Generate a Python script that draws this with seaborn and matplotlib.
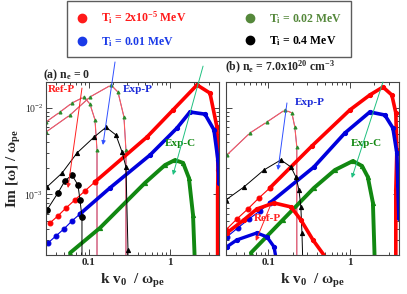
import matplotlib
matplotlib.use("Agg")
import matplotlib.pyplot as plt
from matplotlib.lines import Line2D
from matplotlib.ticker import NullFormatter
import seaborn as sns

# ---- data (k v0/wpe, Im w/wpe) ----
# panel (a): n_e = 0
k_a_red = [0.0336, 0.042, 0.0528, 0.068, 0.0903, 0.12, 0.522, 1.09, 2.15, 3.1, 3.78, 3.89, 3.85, 3.85]
im_a_red = [4.69e-4, 5.65e-4, 6.98e-4, 8.65e-4, 1.10e-3, 1.40e-3, 4.62e-3, 9.5e-3, 0.0185,
            0.0149, 6.0e-3, 1.9e-3, 1.0e-3, 1.5e-4]
k_a_blue = [0.0318, 0.0398, 0.0499, 0.0625, 0.0786, 0.183, 0.569, 1.22, 1.76, 2.69, 3.47, 3.89, 4.0]
im_a_blue = [2.75e-4, 3.32e-4, 4.0e-4, 4.94e-4, 5.96e-4, 1.19e-3, 2.86e-3, 5.87e-3, 9.0e-3,
             8.5e-3, 5.6e-3, 2.5e-3, 1.36e-3]
k_a_green = [0.0592, 0.138, 0.493, 0.869, 1.15, 1.45, 1.71, 1.92, 2.03]
im_a_green = [2.11e-4, 4.1e-4, 1.36e-3, 2.19e-3, 2.5e-3, 2.32e-3, 1.55e-3, 5.8e-4, 1.5e-4]
k_a_tri = [0.0308, 0.0472, 0.0721, 0.117, 0.164, 0.217, 0.258, 0.288, 0.305, 0.305]
im_a_tri = [1.22e-3, 1.77e-3, 3.02e-3, 4.62e-3, 6.0e-3, 4.88e-3, 3.1e-3, 2.08e-3, 2.29e-4, 1.5e-4]
k_a_circ = [0.0308, 0.042, 0.0513, 0.0625, 0.0741, 0.0785, 0.083, 0.083]
im_a_circ = [6.6e-4, 1.04e-3, 1.44e-3, 1.68e-3, 1.29e-3, 8.6e-4, 5.5e-4, 1.5e-4]
k_a_ref1 = [0.03, 0.0446, 0.0625, 0.0879, 0.104, 0.12, 0.127, 0.127]
im_a_ref1 = [6.9e-3, 9.0e-3, 0.01143, 0.01342, 0.01114, 7.3e-3, 3.27e-3, 1.5e-4]
k_a_ref2 = [0.03, 0.0592, 0.104, 0.189, 0.23, 0.272, 0.288, 0.288]
im_a_ref2 = [5.28e-3, 8.3e-3, 0.01342, 0.01845, 0.0153, 7.9e-3, 3.27e-3, 1.5e-4]

# panel (b): n_e = 7.0e20 cm^-3
k_b_red = [0.03, 0.0409, 0.0558, 0.0762, 0.104, 0.342, 1.0, 1.76, 2.55, 3.28, 3.67, 3.78, 3.67, 3.67]
im_b_red = [3.89e-4, 5.2e-4, 6.8e-4, 9.1e-4, 1.19e-3, 3.64e-3, 9.5e-3, 0.01416, 0.0175, 0.01416,
            8.8e-3, 3.27e-3, 1.13e-3, 1.5e-4]
k_b_blue = [0.0308, 0.042, 0.0575, 0.0785, 0.104, 0.362, 0.869, 1.76, 2.69, 3.38, 3.78, 3.89, 4.0]
im_b_blue = [3.23e-4, 4.1e-4, 5.2e-4, 6.45e-4, 7.98e-4, 2.08e-3, 5.14e-3, 9.0e-3, 8.3e-3,
             5.87e-3, 3.02e-3, 1.29e-3, 5.36e-4]
k_b_green = [0.0608, 0.150, 0.362, 0.655, 1.09, 1.41, 1.66, 1.92, 2.03]
im_b_green = [2.11e-4, 5.08e-4, 1.19e-3, 1.92e-3, 2.44e-3, 2.14e-3, 1.6e-3, 8.0e-4, 1.5e-4]
k_b_tri = [0.03, 0.0499, 0.0879, 0.142, 0.189, 0.217, 0.237, 0.25, 0.258, 0.265]
im_b_tri = [8.65e-4, 1.22e-3, 1.92e-3, 2.51e-3, 2.08e-3, 1.6e-3, 1.13e-3, 7.2e-4, 3.6e-4, 1.5e-4]
k_b_ref = [0.0308, 0.0592, 0.0958, 0.159, 0.194, 0.211, 0.223, 0.223]
im_b_ref = [2.86e-3, 5.14e-3, 6.9e-3, 9.5e-3, 8.8e-3, 6.0e-3, 3.55e-3, 1.5e-4]
k_b_redarc = [0.0308, 0.0499, 0.0721, 0.117, 0.189, 0.25, 0.352, 0.508]
im_b_redarc = [3.59e-4, 5.08e-4, 6.8e-4, 7.98e-4, 7.18e-4, 5.08e-4, 2.98e-4, 1.85e-4]
k_b_bluearc = [0.0308, 0.0409, 0.0721, 0.0958, 0.117, 0.123]
im_b_bluearc = [2.48e-4, 2.98e-4, 3.59e-4, 3.23e-4, 2.48e-4, 1.9e-4]

legend_labels = [r"T$_\mathbf{i}$ = 2x10$^\mathbf{-5}$ MeV", r"T$_\mathbf{i}$ = 0.01 MeV",
                 r"T$_\mathbf{i}$ = 0.02 MeV", r"T$_\mathbf{i}$ = 0.4 MeV"]
legend_colors = ["#ff1a1a", "#1a3ae8", "#55883b", "black"]

RED, BLUE, GREEN = "#ff0000", "#0000dd", "#118811"

sns.set_style("ticks")
plt.rcParams["font.family"] = ["Liberation Serif", "DejaVu Serif"]
plt.rcParams["mathtext.fontset"] = "custom"
plt.rcParams["mathtext.rm"] = "Liberation Serif"
plt.rcParams["mathtext.bf"] = "Liberation Serif:bold"
plt.rcParams["mathtext.it"] = "Liberation Serif:italic"
plt.rcParams["mathtext.default"] = "regular"

fig = plt.figure(figsize=(4.07, 2.94), dpi=100)
ax_a = fig.add_axes([0.113, 0.133, 0.425, 0.588])
ax_b = fig.add_axes([0.555, 0.133, 0.425, 0.588])


def curve(ax, k, im, color, lw=2.6, marker="o", ms=3.0, thin=0):
    # first `thin` points: sparse markers on a thin line, the rest dense (thick)
    if thin:
        sns.lineplot(x=k[:thin], y=im[:thin], ax=ax, estimator=None, sort=False,
                     color=color, lw=0.8, marker=marker, ms=3.5, mec=color)
        k, im = k[thin - 1:], im[thin - 1:]
    sns.lineplot(x=k, y=im, ax=ax, estimator=None, sort=False, color=color,
                 lw=lw, marker=marker, ms=ms, mec=color)


def thin_ref(ax, k, im):
    # overlapping red / blue / green reference curves
    sns.lineplot(x=k, y=im, ax=ax, estimator=None, sort=False, color="#4a60e0", lw=0.6)
    sns.lineplot(x=k, y=im, ax=ax, estimator=None, sort=False, color="#ff5a5a",
                 lw=0.8, marker="+", ms=3.5, mew=0.8)
    sns.lineplot(x=k[:-1], y=im[:-1], ax=ax, estimator=None, sort=False, color="#2a8a2a",
                 lw=0, marker="^", ms=2.2, mec="#2a8a2a")


# panel (a)
thin_ref(ax_a, k_a_ref1, im_a_ref1)
thin_ref(ax_a, k_a_ref2, im_a_ref2)
curve(ax_a, k_a_red, im_a_red, RED, thin=6)
curve(ax_a, k_a_blue, im_a_blue, BLUE, thin=5)
curve(ax_a, k_a_green, im_a_green, GREEN, lw=2.8, marker="^")
curve(ax_a, k_a_tri, im_a_tri, "black", lw=0.7, marker="^", ms=3)
curve(ax_a, k_a_circ, im_a_circ, "black", lw=0.7, marker="o", ms=4)

# panel (b)
thin_ref(ax_b, k_b_ref, im_b_ref)
curve(ax_b, k_b_red, im_b_red, RED, thin=5)
curve(ax_b, k_b_blue, im_b_blue, BLUE, thin=5)
curve(ax_b, k_b_green, im_b_green, GREEN, lw=2.8, marker="^")
curve(ax_b, k_b_tri, im_b_tri, "black", lw=0.7, marker="^", ms=3)
curve(ax_b, k_b_redarc, im_b_redarc, RED, lw=2.6)
curve(ax_b, k_b_bluearc, im_b_bluearc, BLUE, lw=2.4)

for ax in (ax_a, ax_b):
    ax.set_xscale("log")
    ax.set_yscale("log")
    ax.set_xlim(0.03, 4)
    ax.set_ylim(2e-4, 2e-2)
    ax.set_xticks([0.1, 1])
    ax.set_xticklabels(["0.1", "1"], fontsize=8, fontweight="bold")
    ax.set_yticks([1e-3, 1e-2])
    ax.set_yticklabels([r"$10^{-3}$", r"$10^{-2}$"], fontsize=7)
    ax.xaxis.set_minor_formatter(NullFormatter())
    ax.yaxis.set_minor_formatter(NullFormatter())
    ax.tick_params(which="both", direction="in", top=True, right=True, width=0.6, pad=2)
    ax.tick_params(which="major", length=4)
    ax.tick_params(which="minor", length=2)
    for s in ax.spines.values():
        s.set_linewidth(0.8)
        s.set_color("#444444")
    ax.set_xlabel(r"k v$_\mathbf{0}$  / $\mathbf{\omega_{pe}}$", fontsize=11,
                  fontweight="bold", labelpad=4)
    ax.set_ylabel("")

ax_b.tick_params(labelleft=False)
ax_a.set_ylabel(r"Im [$\mathbf{\omega}$] / $\mathbf{\omega_{pe}}$", fontsize=11,
                fontweight="bold", labelpad=1)


def arrow(ax, tail, head, c):
    ax.annotate("", xy=head, xytext=tail, xycoords="axes fraction",
                textcoords="axes fraction", annotation_clip=False,
                arrowprops=dict(arrowstyle="-|>", color=c, lw=0.7,
                                mutation_scale=6, shrinkA=0, shrinkB=0))


def label(ax, x, y, s, c):
    ax.text(x, y, s, color=c, fontsize=8, fontweight="bold", ha="center",
            va="center", transform=ax.transAxes)


label(ax_a, 0.092, 0.954, "Ref-P", "#ff2020")
label(ax_a, 0.532, 0.954, "Exp-P", "#1a2ad8")
label(ax_a, 0.775, 0.647, "Exp-C", "#118811")
arrow(ax_a, (0.208, 0.965), (0.127, 0.387), "#ff2020")
arrow(ax_a, (0.399, 1.116), (0.329, 0.636), "#3050ff")
arrow(ax_a, (0.908, 1.092), (0.734, 0.462), "#20c080")

label(ax_b, 0.486, 0.884, "Exp-P", "#1a2ad8")
label(ax_b, 0.815, 0.647, "Exp-C", "#118811")
label(ax_b, 0.243, 0.208, "Ref-P", "#ff2020")
arrow(ax_b, (0.353, 0.879), (0.301, 0.491), "#3050ff")
arrow(ax_b, (0.908, 1.0), (0.728, 0.445), "#20c080")
arrow(ax_b, (0.254, 0.277), (0.173, 0.081), "#ff2020")

fig.text(0.106, 0.745, r"(a) n$_\mathbf{e}$ = 0", fontsize=8.5, fontweight="bold",
         va="center")
fig.text(0.553, 0.769, r"(b) n$_\mathbf{e}$ = 7.0x10$^\mathbf{20}$ cm$^\mathbf{-3}$",
         fontsize=8.5, fontweight="bold", va="center")

handles = [Line2D([], [], ls="", marker="o", ms=6, color=c) for c in legend_colors]
fig.legend(handles, legend_labels, loc="center", bbox_to_anchor=(0.513, 0.901),
           ncol=2, frameon=True, fancybox=False, edgecolor="#333333",
           labelcolor=legend_colors,
           prop=dict(family="Liberation Serif", weight="bold", size=8.5),
           columnspacing=4.8, handletextpad=1.0, borderpad=0.7, labelspacing=0.75,
           handlelength=1.2)

fig.savefig("out.png", dpi=100)
